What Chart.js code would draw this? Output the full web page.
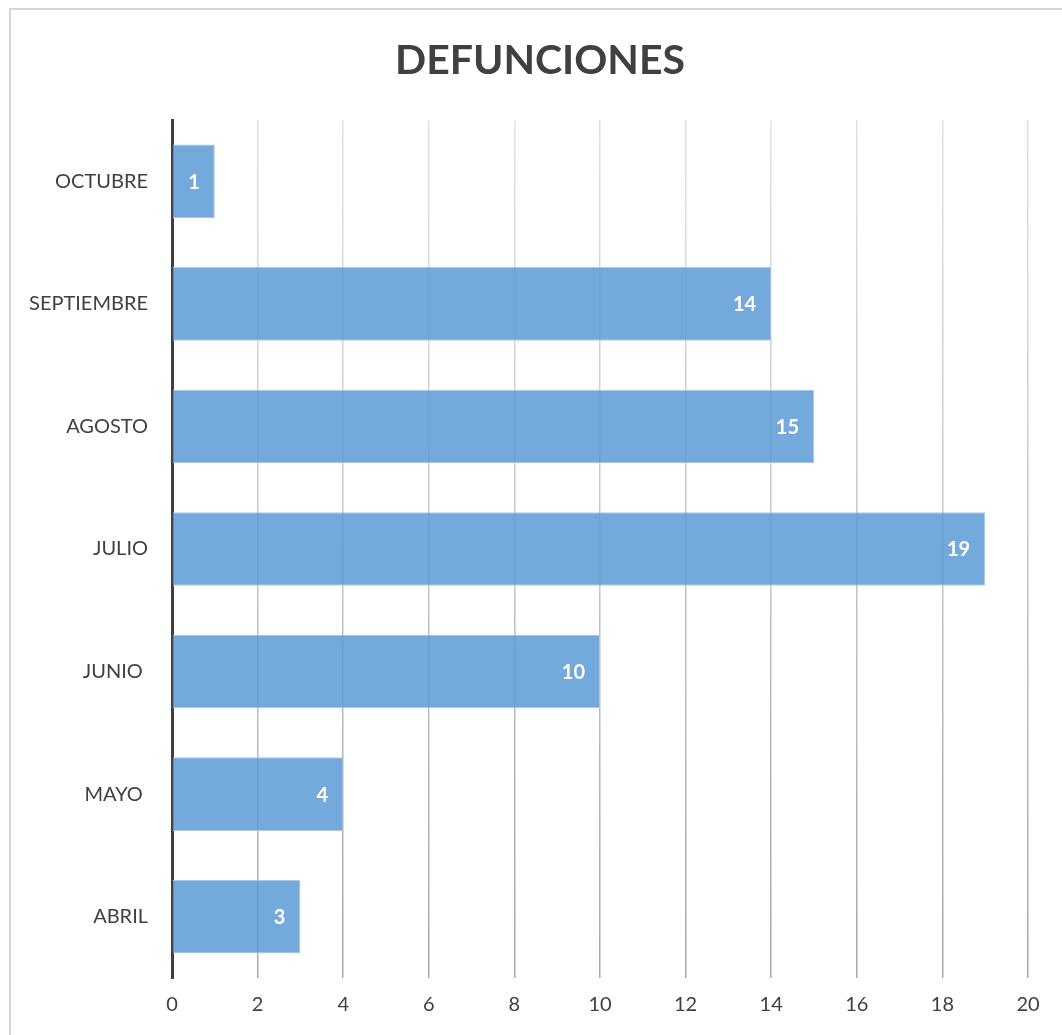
<!DOCTYPE html>
<html>
<head>
<meta charset="utf-8">
<script src="https://cdn.jsdelivr.net/npm/chart.js@4/dist/chart.umd.min.js"></script>
<style>
    body { margin: 0; background: #fff; overflow: hidden; }
    #marco { position: absolute; left: 9px; top: 8px; width: 1100px; height: 1100px;
             border-left: 2px solid #d4d4d4; border-top: 2px solid #d4d4d4; }
    #grafica { position: absolute; left: 0; top: 0; }
</style>
</head>
<body>
<div id="marco"></div>
<canvas id="grafica" width="1062" height="1035"></canvas>
<script>
// --- DATOS ---
const titulo = 'DEFUNCIONES';
const meses = ['OCTUBRE', 'SEPTIEMBRE', 'AGOSTO', 'JULIO', 'JUNIO ', 'MAYO ', 'ABRIL'];
const defunciones = [1, 14, 15, 19, 10, 4, 3];
const ejeMin = 0;
const ejeMax = 20;
const ejePaso = 2;

const FUENTE = 'Lato, "Liberation Sans", sans-serif';

// Rejilla vertical: más clara arriba, más oscura abajo
const colorRejilla = (ctx) => {
    const area = ctx.chart.chartArea;
    if (!area) return '#c0c0c0';
    const g = ctx.chart.ctx.createLinearGradient(0, area.top, 0, area.bottom);
    g.addColorStop(0, '#e2e2e2');
    g.addColorStop(1, '#a8a8a8');
    return g;
};

// Título centrado sobre todo el marco, no solo sobre el área de barras
const tituloCentrado = {
    id: 'tituloCentrado',
    afterDraw(chart) {
        const { ctx } = chart;
        ctx.save();
        ctx.font = 'bold 41px ' + FUENTE;
        ctx.fillStyle = '#404040';
        ctx.textAlign = 'center';
        ctx.textBaseline = 'middle';
        ctx.fillText(titulo, 540, 61);
        ctx.restore();
    }
};

// Valor en blanco dentro del extremo de cada barra
const etiquetasValor = {
    id: 'etiquetasValor',
    afterDatasetsDraw(chart) {
        const { ctx } = chart;
        const meta = chart.getDatasetMeta(0);
        ctx.save();
        ctx.font = 'bold 20px ' + FUENTE;
        ctx.fillStyle = '#ffffff';
        ctx.textAlign = 'right';
        ctx.textBaseline = 'middle';
        meta.data.forEach((barra, i) => {
            ctx.fillText(String(defunciones[i]), barra.x - 15, barra.y + 1);
        });
        ctx.restore();
    }
};

new Chart(document.getElementById('grafica'), {
    type: 'bar',
    data: {
        labels: meses,
        datasets: [{
            data: defunciones,
            backgroundColor: 'rgba(91, 155, 213, 0.85)',
            borderColor: 'rgba(170, 200, 232, 1)',
            borderWidth: 1,
            borderSkipped: 'start',
            barPercentage: 0.6,
            categoryPercentage: 1
        }]
    },
    options: {
        indexAxis: 'y',
        responsive: false,
        animation: false,
        layout: { padding: { left: 0, right: 34, top: 120, bottom: 0 } },
        plugins: {
            legend: { display: false },
            tooltip: { enabled: false },
            title: { display: false }
        },
        scales: {
            x: {
                min: ejeMin,
                max: ejeMax,
                ticks: {
                    stepSize: ejePaso,
                    color: '#404040',
                    font: { family: FUENTE, size: 20 },
                    padding: 15
                },
                grid: { color: colorRejilla, lineWidth: 1.5, drawTicks: false },
                border: { display: false },
                afterFit: (s) => { s.height = 57; }
            },
            y: {
                ticks: {
                    color: '#404040',
                    font: { family: FUENTE, size: 20 },
                    padding: 16
                },
                grid: { display: false },
                border: { display: true, color: '#404040', width: 3 },
                afterFit: (s) => { s.width = 172; }
            }
        }
    },
    plugins: [etiquetasValor, tituloCentrado]
});
</script>
</body>
</html>
